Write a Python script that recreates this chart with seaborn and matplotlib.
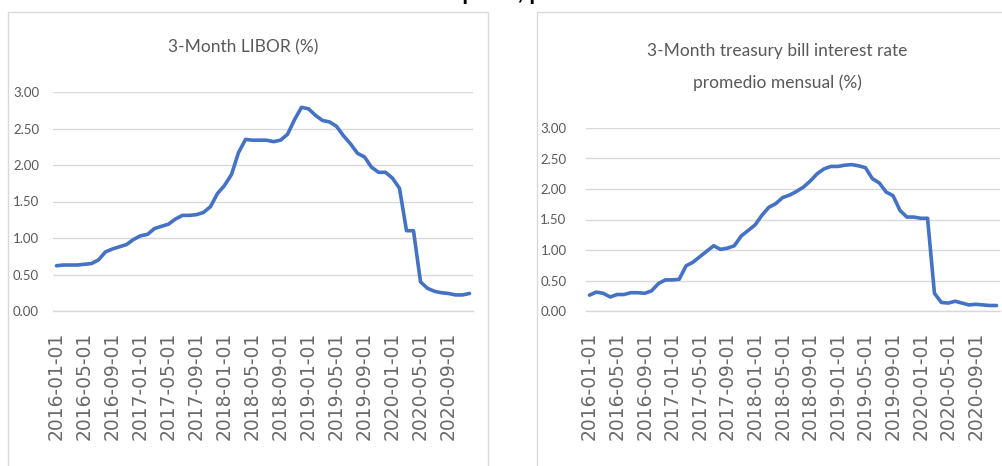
import numpy as np
import pandas as pd
import matplotlib
matplotlib.use("Agg")
import matplotlib.pyplot as plt
from matplotlib.patches import Rectangle
from matplotlib.ticker import FixedLocator, FormatStrFormatter
import seaborn as sns

# Monthly series, January 2016 to December 2020
months = pd.date_range("2016-01-01", "2020-12-01", freq="MS")

libor_3m = [
    0.62, 0.63, 0.63, 0.63, 0.64, 0.65, 0.70, 0.81, 0.85, 0.88, 0.91, 0.98,
    1.03, 1.05, 1.13, 1.16, 1.19, 1.26, 1.31, 1.31, 1.32, 1.35, 1.43, 1.61,
    1.72, 1.87, 2.17, 2.35, 2.34, 2.34, 2.34, 2.32, 2.34, 2.42, 2.62, 2.79,
    2.77, 2.68, 2.61, 2.59, 2.53, 2.40, 2.29, 2.16, 2.11, 1.97, 1.90, 1.90,
    1.82, 1.68, 1.10, 1.10, 0.40, 0.31, 0.27, 0.25, 0.24, 0.22, 0.22, 0.24,
]

tbill_3m = [
    0.26, 0.31, 0.29, 0.23, 0.27, 0.27, 0.30, 0.30, 0.29, 0.33, 0.45, 0.51,
    0.51, 0.52, 0.74, 0.80, 0.89, 0.98, 1.07, 1.01, 1.03, 1.07, 1.23, 1.32,
    1.41, 1.57, 1.70, 1.76, 1.86, 1.90, 1.96, 2.03, 2.13, 2.25, 2.33, 2.37,
    2.37, 2.39, 2.40, 2.38, 2.35, 2.17, 2.10, 1.95, 1.89, 1.65, 1.54, 1.54,
    1.52, 1.52, 0.29, 0.14, 0.13, 0.16, 0.13, 0.10, 0.11, 0.10, 0.09, 0.09,
]

label_step = 4
tick_labels = [d.strftime("%Y-%m-%d") for d in months[::label_step]]

title_libor = "3-Month LIBOR (%)"
title_tbill = "3-Month treasury bill interest rate\npromedio mensual (%)"
heading = "Tasas de interés de corto plazo, promedio mensual"

sns.set_theme(style="white")
plt.rcParams["font.family"] = ["DejaVu Sans"]

LINE = "#4472C4"
GRID = "#d9d9d9"
TEXT = "#595959"
XTEXT = "#6a6a6a"
NARROW = ["Liberation Sans Narrow", "Lato", "DejaVu Sans"]

W, H = 1002, 466
fig = plt.figure(figsize=(W / 100, H / 100), dpi=100)
fig.patch.set_facecolor("white")

# chart frames
for (x0, x1) in [(8, 488), (537, 1012)]:
    fig.add_artist(Rectangle((x0 / W, -0.02), (x1 - x0) / W, 1 - 12 / H + 0.02,
                             transform=fig.transFigure, fill=False,
                             edgecolor=GRID, linewidth=1.0))

# page heading running off the top edge
fig.text(0.459, 1.0 + 1.5 / H, heading, ha="center", va="baseline",
         fontsize=15.5, fontweight="bold", color="black",
         family=["Liberation Sans", "DejaVu Sans"])

n = len(months)
df = pd.DataFrame({
    "pos": np.arange(n) + 0.5,
    "libor": libor_3m,
    "tbill": tbill_3m,
})


def style_axis(ax, ytick_pad):
    ax.set_xlim(0, n)
    ax.set_ylim(0, 3)
    ax.set_yticks(np.arange(0, 3.01, 0.5))
    ax.yaxis.set_major_formatter(FormatStrFormatter("%.2f"))
    ax.set_xticks(df["pos"].values[::label_step])
    ax.set_xticklabels(tick_labels, rotation=90)
    ax.xaxis.set_minor_locator(FixedLocator(np.arange(0, n + 1, label_step)))
    ax.tick_params(axis="x", which="major", length=0, pad=15,
                   labelsize=13.5, labelcolor=XTEXT)
    ax.tick_params(axis="x", which="minor", length=5, width=1, color=GRID)
    ax.tick_params(axis="y", length=0, pad=ytick_pad, labelcolor=TEXT)
    for lab in ax.get_yticklabels():
        lab.set_family(NARROW)
        lab.set_fontsize(9.5)
    for side in ["top", "right", "left"]:
        ax.spines[side].set_visible(False)
    ax.spines["bottom"].set_color(GRID)
    ax.spines["bottom"].set_linewidth(1.0)
    ax.grid(axis="y", color=GRID, linewidth=1.0)
    ax.set_axisbelow(True)
    ax.set_xlabel("")
    ax.set_ylabel("")


ax1 = fig.add_axes([53 / W, 1 - 311 / H, 420 / W, (311 - 92) / H])
sns.lineplot(data=df, x="pos", y="libor", ax=ax1, color=LINE, linewidth=2.6)
style_axis(ax1, 10)

ax2 = fig.add_axes([586 / W, 1 - 311 / H, 414 / W, (311 - 128) / H])
sns.lineplot(data=df, x="pos", y="tbill", ax=ax2, color=LINE, linewidth=2.6)
style_axis(ax2, 14)
for ax in (ax1, ax2):
    ax.lines[0].set_solid_capstyle("round")
    ax.lines[0].set_solid_joinstyle("round")

fig.text(243 / W, 1 - 47 / H, title_libor, ha="center", va="center",
         fontsize=12.5, color=TEXT, family=NARROW)
fig.text(777 / W, 1 - 67 / H, title_tbill, ha="center", va="center",
         fontsize=12.5, color=TEXT, family=NARROW, linespacing=2.2)

fig.savefig("out.png", dpi=100, facecolor="white")
